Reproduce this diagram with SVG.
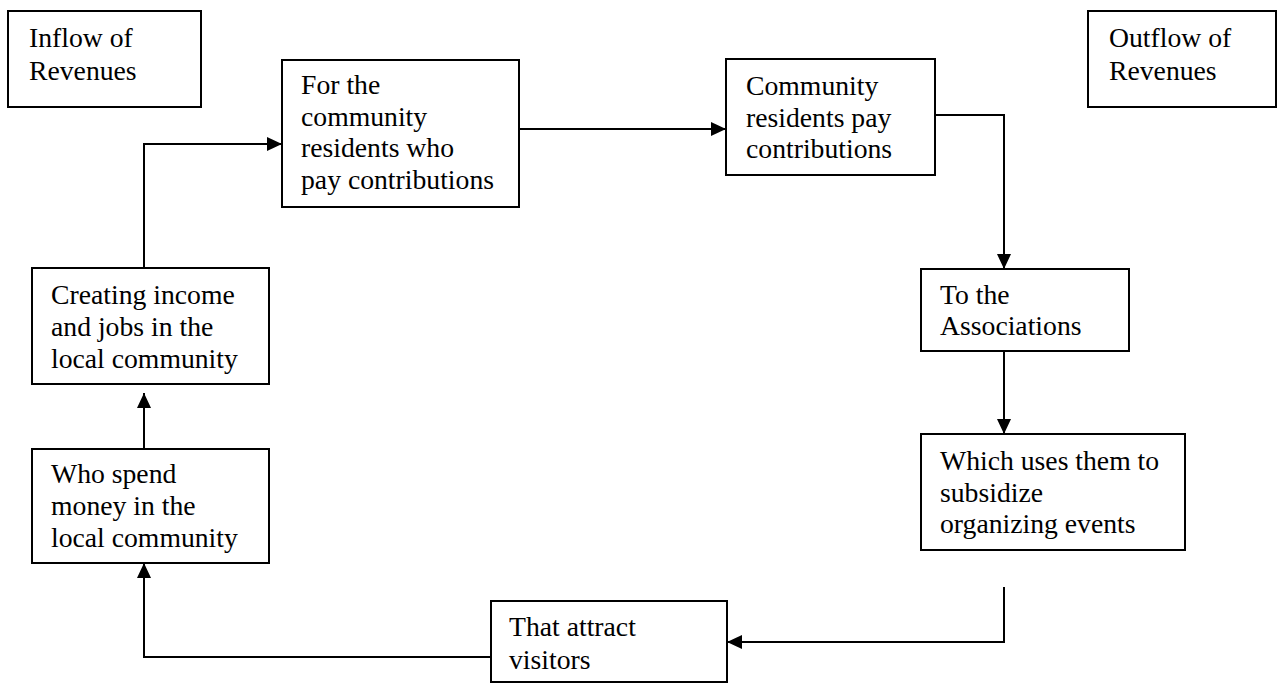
<svg xmlns="http://www.w3.org/2000/svg" width="1278" height="684" viewBox="0 0 1278 684">
<style>
  .box { fill: #ffffff; stroke: #000000; stroke-width: 2; }
  .lbl { font-family: "Liberation Serif", "Times New Roman", serif; font-size: 27.7px; fill: #000000; }
  .conn { fill: none; stroke: #000000; stroke-width: 2; }
</style>
<defs>
  <marker id="arrow" markerUnits="userSpaceOnUse" markerWidth="16" markerHeight="15" refX="15" refY="7" orient="auto">
    <path d="M0,0 L15,7 L0,14 Z" fill="#000000"/>
  </marker>
</defs>
<rect width="1278" height="684" fill="#ffffff"/>

<g id="connectors">
  <path class="conn" d="M144,268 V144 H282" marker-end="url(#arrow)"/>
  <path class="conn" d="M519,129 H726" marker-end="url(#arrow)"/>
  <path class="conn" d="M935,115 H1004 V269" marker-end="url(#arrow)"/>
  <path class="conn" d="M1004,351 V434" marker-end="url(#arrow)"/>
  <path class="conn" d="M1004,587 V642 H727" marker-end="url(#arrow)"/>
  <path class="conn" d="M491,657 H144 V563" marker-end="url(#arrow)"/>
  <path class="conn" d="M144,449 V393" marker-end="url(#arrow)"/>
</g>

<g id="inflow">
  <rect class="box" x="8" y="11" width="193" height="96"/>
  <text class="lbl" x="29" y="47">Inflow of</text>
  <text class="lbl" x="29" y="80">Revenues</text>
</g>

<g id="outflow">
  <rect class="box" x="1088" y="11" width="188" height="96"/>
  <text class="lbl" x="1109" y="47">Outflow of</text>
  <text class="lbl" x="1109" y="80">Revenues</text>
</g>

<g id="for-residents">
  <rect class="box" x="282" y="60" width="237" height="147"/>
  <text class="lbl" x="301" y="94">For the</text>
  <text class="lbl" x="301" y="125.5">community</text>
  <text class="lbl" x="301" y="157">residents who</text>
  <text class="lbl" x="301" y="188.5">pay contributions</text>
</g>

<g id="residents-pay">
  <rect class="box" x="726" y="59" width="209" height="116"/>
  <text class="lbl" x="746" y="95">Community</text>
  <text class="lbl" x="746" y="127">residents pay</text>
  <text class="lbl" x="746" y="158">contributions</text>
</g>

<g id="associations">
  <rect class="box" x="921" y="269" width="208" height="82"/>
  <text class="lbl" x="940" y="304">To the</text>
  <text class="lbl" x="940" y="335">Associations</text>
</g>

<g id="subsidize">
  <rect class="box" x="921" y="434" width="264" height="116"/>
  <text class="lbl" x="940" y="470">Which uses them to</text>
  <text class="lbl" x="940" y="501.5">subsidize</text>
  <text class="lbl" x="940" y="533">organizing events</text>
</g>

<g id="attract">
  <rect class="box" x="491" y="601" width="236" height="81"/>
  <text class="lbl" x="509" y="636">That attract</text>
  <text class="lbl" x="509" y="669">visitors</text>
</g>

<g id="spend">
  <rect class="box" x="32" y="449" width="237" height="114"/>
  <text class="lbl" x="51" y="483">Who spend</text>
  <text class="lbl" x="51" y="515">money in the</text>
  <text class="lbl" x="51" y="547">local community</text>
</g>

<g id="creating">
  <rect class="box" x="32" y="268" width="237" height="116"/>
  <text class="lbl" x="51" y="304">Creating income</text>
  <text class="lbl" x="51" y="336">and jobs in the</text>
  <text class="lbl" x="51" y="368">local community</text>
</g>
</svg>
